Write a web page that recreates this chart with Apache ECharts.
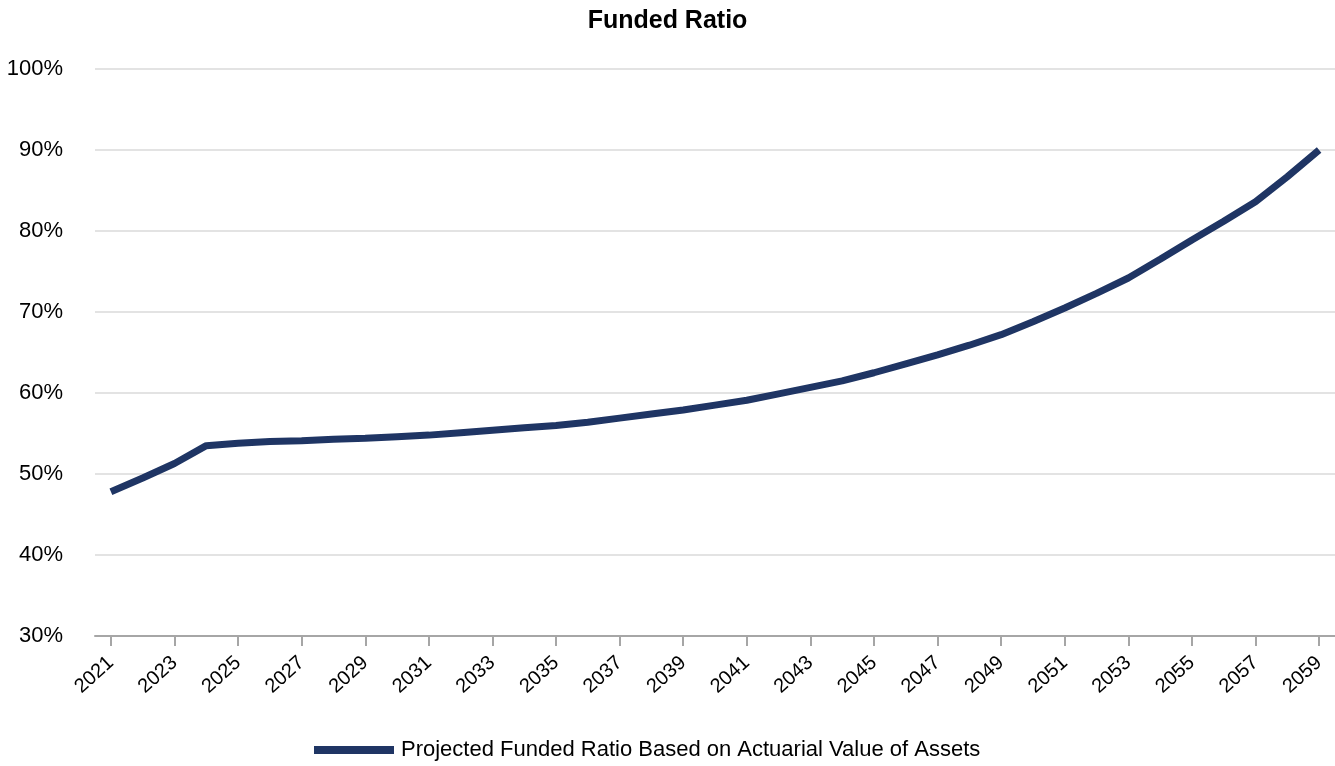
<!DOCTYPE html>
<html>
<head>
<meta charset="utf-8">
<script src="https://cdn.jsdelivr.net/npm/echarts@6/dist/echarts.min.js"></script>
<style>
  html, body { margin: 0; padding: 0; background: #fff; }
  #chart { width: 1335px; height: 766px; }
</style>
</head>
<body>
<div id="chart"></div>
<script>
// Projection years
const years = [
  '2021','2022','2023','2024','2025','2026','2027','2028','2029','2030',
  '2031','2032','2033','2034','2035','2036','2037','2038','2039','2040',
  '2041','2042','2043','2044','2045','2046','2047','2048','2049','2050',
  '2051','2052','2053','2054','2055','2056','2057','2058','2059'
];

// Projected funded ratio (%) based on actuarial value of assets
const fundedRatio = [
  47.8, 49.5, 51.3, 53.5, 53.8, 54.0, 54.1, 54.3, 54.4, 54.6,
  54.8, 55.1, 55.4, 55.7, 56.0, 56.4, 56.9, 57.4, 57.9, 58.5,
  59.1, 59.9, 60.7, 61.5, 62.5, 63.6, 64.7, 65.9, 67.2, 68.8,
  70.5, 72.3, 74.2, 76.5, 78.9, 81.2, 83.6, 86.7, 90.0
];

const seriesName = 'Projected Funded Ratio Based on Actuarial Value of Assets';
const chartTitle = 'Funded Ratio';

const FONT = '"Liberation Sans", Arial, sans-serif';
const chart = echarts.init(document.getElementById('chart'));

chart.setOption({
  animation: false,
  title: {
    text: chartTitle,
    left: 'center',
    top: 4,
    textStyle: { fontFamily: FONT, fontSize: 25, fontWeight: 'bold', color: '#000' }
  },
  legend: {
    data: [seriesName],
    left: 309,
    top: 734,
    icon: 'rect',
    itemWidth: 80,
    itemHeight: 8,
    itemGap: 10,
    textStyle: { fontFamily: FONT, fontSize: 22, color: '#000', padding: [0, 0, 0, 2] }
  },
  grid: { left: 95, right: 0, top: 69, bottom: 130, containLabel: false },
  xAxis: {
    type: 'category',
    data: years,
    boundaryGap: true,
    axisLine: { show: true, lineStyle: { color: '#a6a6a6', width: 2 } },
    axisTick: {
      show: true,
      alignWithLabel: true,
      interval: 1,
      length: 10,
      lineStyle: { color: '#a6a6a6', width: 2 }
    },
    axisLabel: {
      interval: 1,
      rotate: 42,
      margin: 24,
      fontFamily: FONT,
      fontSize: 20,
      color: '#000'
    }
  },
  yAxis: {
    type: 'value',
    min: 30,
    max: 100,
    interval: 10,
    axisLine: { show: false },
    axisTick: { show: false },
    axisLabel: {
      formatter: '{value}%',
      margin: 32,
      fontFamily: FONT,
      fontSize: 22,
      color: '#000'
    },
    splitLine: { lineStyle: { color: '#e3e3e3', width: 2 } }
  },
  series: [{
    name: seriesName,
    type: 'line',
    data: fundedRatio,
    symbol: 'none',
    smooth: false,
    lineStyle: { color: '#1f3564', width: 7 },
    itemStyle: { color: '#1f3564' }
  }]
});
</script>
</body>
</html>
